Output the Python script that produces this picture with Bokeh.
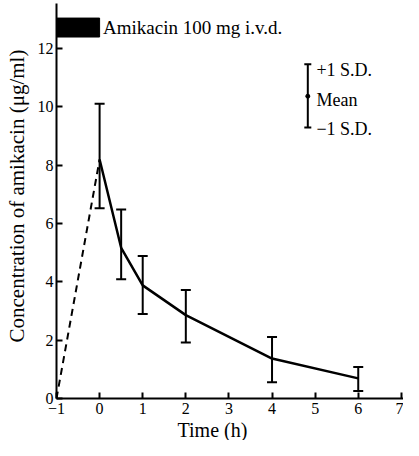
from bokeh.plotting import figure
from bokeh.models import ColumnDataSource, Whisker, TeeHead, Title, Range1d, FixedTicker
from bokeh.core.properties import value
from bokeh.embed import file_html
from bokeh.resources import INLINE

# ---- data ----
hours = [0, 0.5, 1, 2, 4, 6]
mean_conc = [8.2, 5.17, 3.88, 2.86, 1.37, 0.69]
upper_sd = [10.11, 6.48, 4.89, 3.72, 2.11, 1.08]
lower_sd = [6.53, 4.09, 2.90, 1.92, 0.56, 0.26]

infusion_start = -1
infusion_end = 0
infusion_label = "Amikacin 100 mg i.v.d."

legend_x = 4.83
legend_vals = [9.3, 10.37, 11.47]
legend_texts = ["\u22121 S.D.", "Mean", "+1 S.D."]

x_ticks = [-1, 0, 1, 2, 3, 4, 5, 6, 7]
y_ticks = [0, 2, 4, 6, 8, 10, 12]

FONT = "Liberation Serif"

p = figure(width=403, height=440, output_backend="svg", toolbar_location=None,
           x_range=Range1d(-1, 7.05), y_range=Range1d(0, 13.55),
           min_border_left=55, min_border_right=0, min_border_top=3,
           min_border_bottom=40)
p.outline_line_color = None
p.grid.visible = False
p.background_fill_color = "white"

for ax in (p.xaxis[0], p.yaxis[0]):
    ax.axis_line_width = 2
    ax.axis_line_color = "black"
    ax.major_tick_in = 6
    ax.major_tick_out = 0
    ax.major_tick_line_width = 2
    ax.minor_tick_line_color = None
    ax.major_label_text_font = FONT
    ax.major_label_text_font_size = "16px"
    ax.major_label_text_color = "black"

p.xaxis[0].ticker = FixedTicker(ticks=x_ticks)
p.yaxis[0].ticker = FixedTicker(ticks=y_ticks)
p.xaxis[0].major_label_overrides = {-1: "\u22121"}
p.xaxis[0].major_label_standoff = 4
p.yaxis[0].major_label_standoff = 3

# axis titles (placed in the side panels)
p.add_layout(Title(text="Time (h)", align="left", offset=121, standoff=0,
                   text_font=FONT, text_font_size="20px", text_font_style="normal",
                   text_color="black"), "below")
p.add_layout(Title(text="Concentration of amikacin (\u03bcg/ml)", align="left",
                   offset=56, standoff=8, vertical_align="top",
                   text_font=FONT, text_font_size="21px",
                   text_font_style="normal", text_color="black"), "left")

# infusion bar
p.quad(left=[infusion_start], right=[infusion_end], bottom=[12.4], top=[13.05],
       fill_color="black", line_color="black")
p.text(x=[infusion_end + 0.08], y=[12.72], text=[infusion_label],
       text_font=value(FONT), text_font_size=value("19px"),
       text_baseline="middle", text_align="left", text_color="black")

# dashed infusion line
p.line(x=[infusion_start, hours[0]], y=[0, mean_conc[0]], line_dash="7 5",
       line_width=2, line_color="black")

# mean curve with S.D. bars
src = ColumnDataSource(dict(x=hours, y=mean_conc, up=upper_sd, lo=lower_sd))
p.line(x="x", y="y", source=src, line_width=2.5, line_color="black")
p.add_layout(Whisker(base="x", upper="up", lower="lo", source=src, line_width=2,
                     line_color="black",
                     upper_head=TeeHead(size=10, line_width=2, line_color="black"),
                     lower_head=TeeHead(size=10, line_width=2, line_color="black")))

# legend for S.D.
lsrc = ColumnDataSource(dict(x=[legend_x], up=[legend_vals[2]], lo=[legend_vals[0]]))
p.add_layout(Whisker(base="x", upper="up", lower="lo", source=lsrc, line_width=2,
                     line_color="black",
                     upper_head=TeeHead(size=7, line_width=2, line_color="black"),
                     lower_head=TeeHead(size=7, line_width=2, line_color="black")))
p.scatter(x=[legend_x], y=[legend_vals[1]], size=4, color="black")
p.text(x=[legend_x + 0.2] * 3,
       y=[legend_vals[0] - 0.05, legend_vals[1] - 0.12, legend_vals[2] - 0.2],
       text=legend_texts, text_font=value(FONT), text_font_size=value("18px"),
       text_baseline="middle", text_align="left", text_color="black")

open("out.html", "w").write(file_html(p, INLINE))
